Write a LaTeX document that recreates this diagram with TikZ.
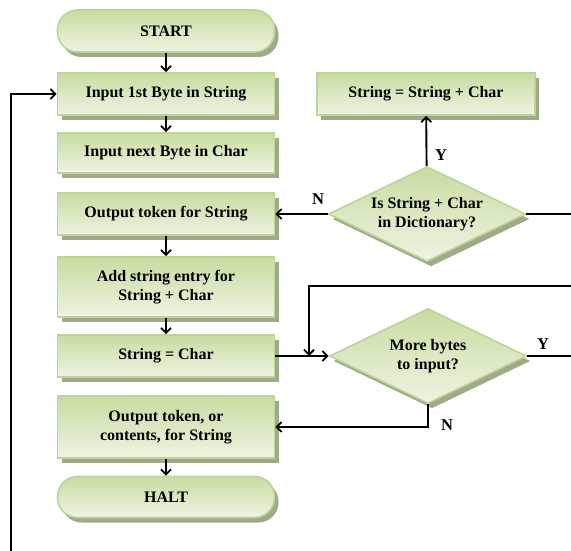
\documentclass[tikz,border=0pt]{standalone}
\usepackage{fontspec}
\setmainfont{Liberation Serif}
\usetikzlibrary{shapes.geometric,shadows,arrows.meta}
\definecolor{boxdark}{RGB}{200,220,160}
\definecolor{boxlight}{RGB}{238,244,228}
\definecolor{boxline}{RGB}{190,212,150}
\definecolor{boxshadow}{RGB}{158,170,138}

\tikzset{
    flow/.style={draw=boxline,line width=1.6pt,top color=boxdark,bottom color=boxlight,
        drop shadow={shadow xshift=4pt,shadow yshift=-5pt,fill=boxshadow,opacity=1},
        font=\fontsize{16}{18.5}\selectfont\bfseries,align=center,inner sep=0pt},
    stepbox/.style={flow,rectangle,minimum width=217pt},
    termbox/.style={flow,rectangle,rounded corners=20pt,minimum width=217pt},
    choice/.style={flow,diamond,shape aspect=2.1,minimum width=197pt,minimum height=95pt},
    tag/.style={font=\fontsize{16.5}{18}\selectfont\bfseries}
}

\begin{document}
\begin{tikzpicture}[x=1pt,y=-1pt,>={Straight Barb[length=5pt,width=10pt]}]
\useasboundingbox (0,0) rectangle (571,551);

\begin{scope}
    \node[termbox,minimum height=42pt] (start) at (166,31) {START};
    \node[stepbox,minimum height=42pt] (first) at (166,94) {Input 1st Byte in String};
    \node[stepbox,minimum height=40pt] (next) at (166,153) {Input next Byte in Char};
    \node[stepbox,minimum height=42pt] (outtok) at (166,214) {Output token for String};
    \node[stepbox,minimum height=60pt] (addentry) at (166,287) {Add string entry for\\String + Char};
    \node[stepbox,minimum height=42pt] (setchar) at (166,356) {String = Char};
    \node[stepbox,minimum height=62pt] (outlast) at (166,427) {Output token, or\\contents, for String};
    \node[termbox,minimum height=41pt] (halt) at (166,497) {HALT};

    \node[stepbox,minimum width=218pt,minimum height=42pt] (append) at (426,94) {String = String + Char};
    \node[choice] (indict) at (427,214) {Is String + Char\\in Dictionary?};
    \node[choice] (more) at (428,356) {More bytes\\to input?};
\end{scope}

\node[tag] (ydict) at (441,155) {Y};
\node[tag] (ndict) at (318,199) {N};
\node[tag] (ymore) at (543,344) {Y};
\node[tag] (nmore) at (447,425) {N};

\coordinate (loopin) at (11,551);
\coordinate (dictout) at (571,214);
\coordinate (backin) at (571,286);
\coordinate (moreout) at (571,356);
\coordinate (join) at (309,356);

\begin{scope}[every edge/.style={draw=black,line width=1.9pt}]
    \path [->] (start) edge (first);
    \path [->] (first) edge (next);
    \path [->] (outtok) edge (addentry);
    \path [->] (addentry) edge (setchar);
    \path [->] (outlast) edge (halt);
    \path [->] (indict) edge (append);
    \path [->] (indict) edge (outtok);
    \path [->] (setchar) edge (more);
    \path (indict) edge (dictout);
    \path (more) edge (moreout);
\end{scope}

\begin{scope}[line width=1.9pt]
    \draw [->] (loopin) |- (first.west);
    \draw [->] (backin) -| (join);
    \draw [->] (more.south) |- (outlast.east);
\end{scope}
\end{tikzpicture}
\end{document}
